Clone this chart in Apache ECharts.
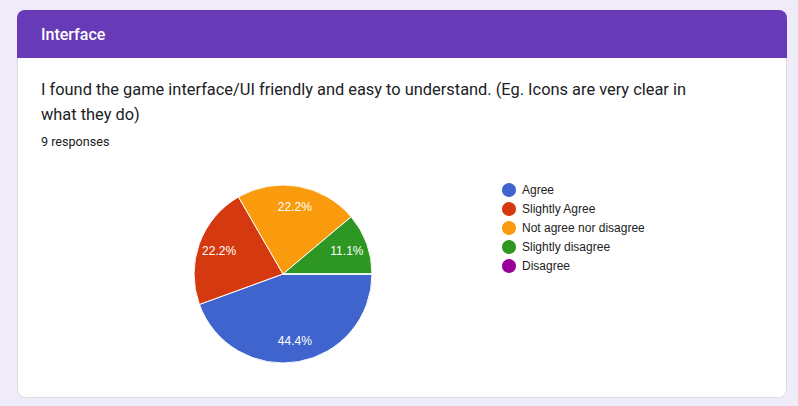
<!DOCTYPE html>
<html><head><meta charset="utf-8">
<script src="https://cdn.jsdelivr.net/npm/echarts@6/dist/echarts.min.js"></script>
<style>html,body{margin:0;padding:0;background:#f0ebf8;}#c{width:798px;height:406px;}</style>
</head><body><div id="c"></div>
<script>
const sectionTitle = 'Interface';
const questionLines = ['I found the game interface/UI friendly and easy to understand. (Eg. Icons are very clear in', 'what they do)'];
const responsesText = '9 responses';
const categories = ['Agree', 'Slightly Agree', 'Not agree nor disagree', 'Slightly disagree', 'Disagree'];
const counts = [4, 2, 2, 1, 0];
const colors = ['#4064cd', '#d5390f', '#f99b0c', '#2e9622', '#990099'];

const data = categories.map((n, i) => ({ name: n, value: counts[i] }));
const chart = echarts.init(document.getElementById('c'), null, { renderer: 'svg' });
const total = counts.reduce((a, b) => a + b, 0);
const font = 'Roboto, "Noto Sans", Arial, sans-serif';

chart.setOption({
  animation: false,
  color: colors,
  graphic: [
    { type: 'rect', z: 0, shape: { x: 17.5, y: 10.5, width: 769, height: 387, r: 8 }, style: { fill: '#fff', stroke: '#dadce0', lineWidth: 1 } },
    { type: 'rect', z: 1, shape: { x: 17, y: 10, width: 770, height: 48, r: [8, 8, 0, 0] }, style: { fill: '#673ab7' } },
    { type: 'text', z: 2, x: 41, y: 34, style: { text: sectionTitle, fill: '#fff', font: '500 16px ' + font, textVerticalAlign: 'middle' } },
    { type: 'text', z: 2, x: 41, y: 89, style: { text: questionLines[0], fill: '#202124', font: '400 16.4px ' + font, textVerticalAlign: 'middle' } },
    { type: 'text', z: 2, x: 41, y: 114, style: { text: questionLines[1], fill: '#202124', font: '400 16.4px ' + font, textVerticalAlign: 'middle' } },
    { type: 'text', z: 2, x: 41, y: 141, style: { text: responsesText, fill: '#202124', font: '400 12.6px ' + font, textVerticalAlign: 'middle' } }
  ],
  legend: {
    orient: 'vertical', left: 495, top: 176, icon: 'circle', itemWidth: 16, itemHeight: 16, itemGap: 1,
    data: categories,
    textStyle: { fontFamily: 'Arial, "Liberation Sans", sans-serif', fontSize: 12, color: '#222' },
    selectedMode: false
  },
  series: [
    {
      type: 'pie', center: [283, 274], radius: [0, 89], startAngle: 0, clockwise: true,
      data: data, label: { show: false }, labelLine: { show: false },
      itemStyle: { borderColor: '#fff', borderWidth: 1 }, emphasis: { disabled: true }, silent: true
    },
    {
      type: 'pie', center: [283, 274], radius: [41, 89], startAngle: 0, clockwise: true,
      data: data, itemStyle: { color: 'transparent', borderWidth: 0 }, emphasis: { disabled: true }, silent: true,
      legendHoverLink: false,
      label: {
        show: true, position: 'inside', color: '#fff', fontSize: 12, fontFamily: 'Arial, "Liberation Sans", sans-serif',
        formatter: p => p.value > 0 ? (p.value / total * 100).toFixed(1) + '%' : ''
      },
      labelLine: { show: false }
    }
  ]
});
</script></body></html>
